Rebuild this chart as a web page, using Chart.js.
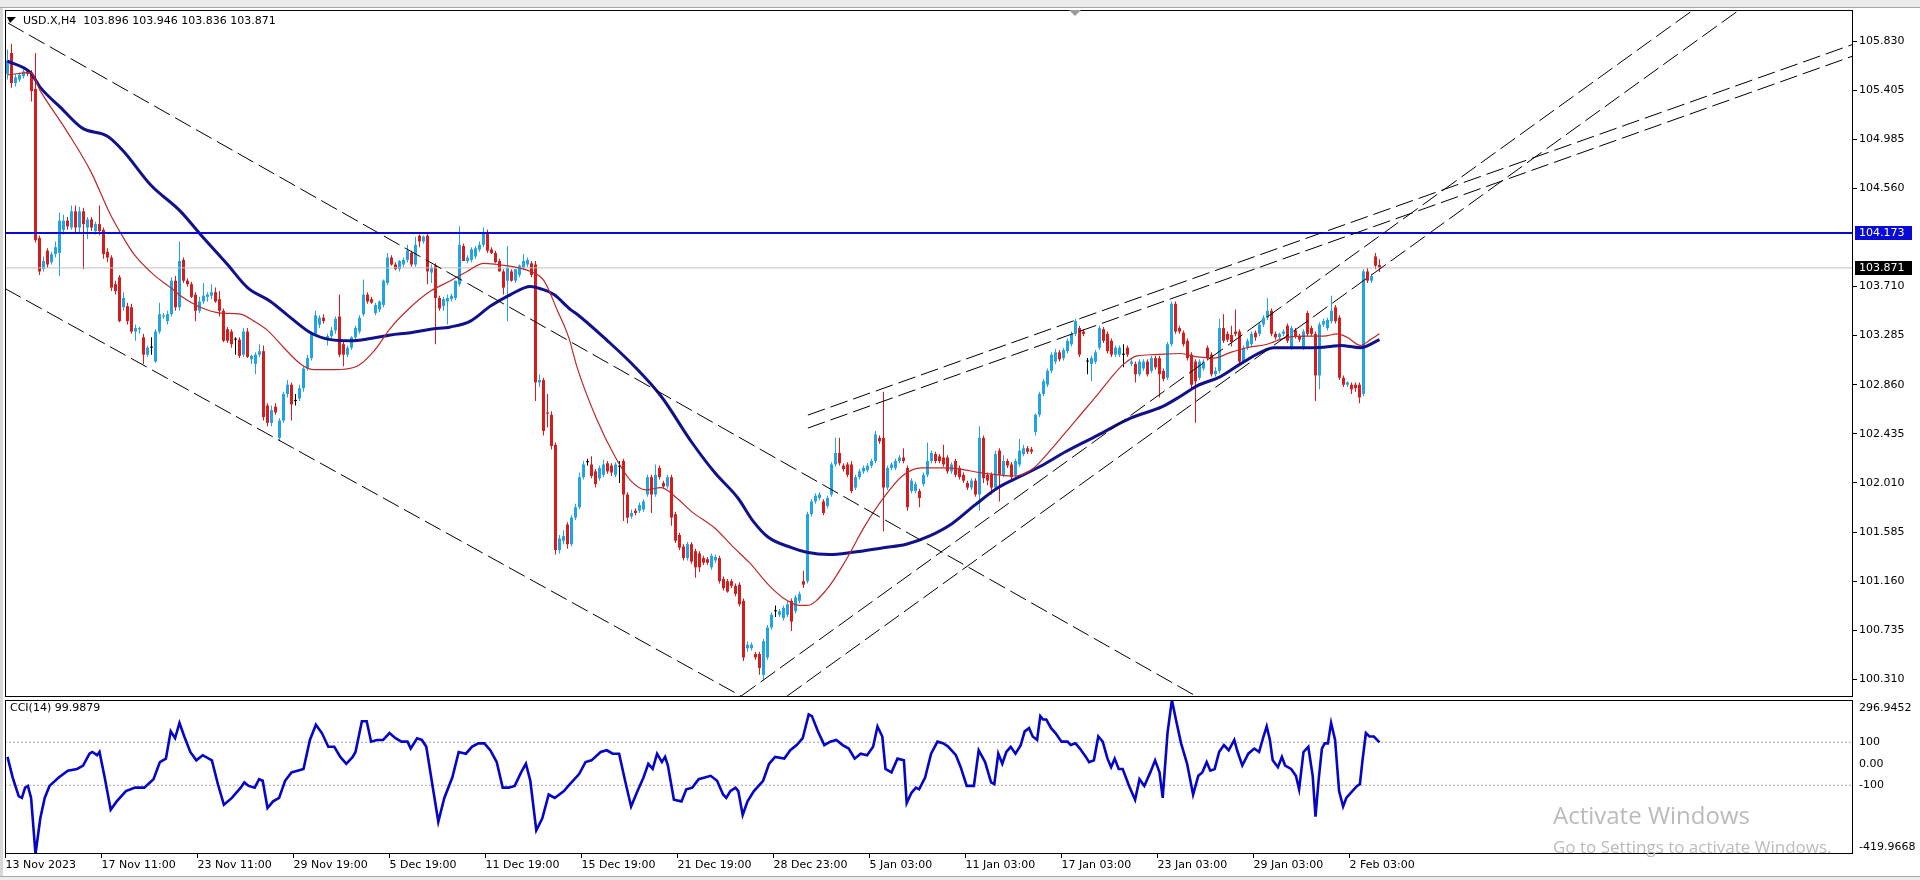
<!DOCTYPE html>
<html>
<head>
<meta charset="utf-8">
<script src="https://cdn.jsdelivr.net/npm/chart.js@4.4.1/dist/chart.umd.min.js"></script>
<style>
html,body{margin:0;padding:0;width:1920px;height:880px;overflow:hidden;background:#fff;}
#topbar{position:absolute;left:0;top:0;width:1920px;height:7px;background:#ececec;border-bottom:1px solid #a8a8a8;}
#botbar{position:absolute;left:0;top:876px;width:1920px;height:4px;background:#ececec;border-top:1px solid #a8a8a8;}
#leftbar{position:absolute;left:0;top:8px;width:3px;height:868px;background:#d8d8d8;}
canvas{position:absolute;left:0;}
#cMain{top:0;}
#cCci{top:698px;}
.hdr{position:absolute;font:11px "DejaVu Sans",sans-serif;color:#000;white-space:pre;line-height:13px;}
.wm{position:absolute;font-family:"Open Sans",sans-serif;color:#bbbbbb;white-space:pre;line-height:1;}
</style>
</head>
<body>
<div id="topbar"></div>
<div id="botbar"></div>
<div id="leftbar"></div>
<canvas id="cMain" width="1920" height="698" style="width:1920px;height:698px"></canvas>
<canvas id="cCci" width="1920" height="182" style="width:1920px;height:182px"></canvas>
<div class="hdr" style="left:23px;top:14px">USD.X,H4  103.896 103.946 103.836 103.871</div>
<div class="hdr" style="left:10px;top:701px">CCI(14) 99.9879</div>
<div class="wm" style="left:1553px;top:803px;font-size:24px">Activate Windows</div>
<div class="wm" style="left:1553px;top:838px;font-size:17px">Go to Settings to activate Windows.</div>
<script>
// ---------- DATA ----------
const timeLabels = ["13 Nov 2023","17 Nov 11:00","23 Nov 11:00","29 Nov 19:00","5 Dec 19:00","11 Dec 19:00","15 Dec 19:00","21 Dec 19:00","28 Dec 23:00","5 Jan 03:00","11 Jan 03:00","17 Jan 03:00","23 Jan 03:00","29 Jan 03:00","2 Feb 03:00"];
const timeTickBars = [0,24,48,72,96,120,144,168,192,216,240,264,288,312,336];
const priceTickValues = [105.830,105.405,104.985,104.560,103.710,103.285,102.860,102.435,102.010,101.585,101.160,100.735,100.310];
const priceTickLabels = ["105.830","105.405","104.985","104.560","103.710","103.285","102.860","102.435","102.010","101.585","101.160","100.735","100.310"];
const cciTickValues = [296.9452,100,0,-100,-419.9668];
const cciTickLabels = ["296.9452","100","0.00","-100","-419.9668"];
const cciLevels = [100,-100];
const supportLevel = 104.173;
const bidPrice = 103.871;

const O = [105.55,105.73,105.47,105.50,105.53,105.57,105.56,105.42,104.13,103.86,
104.02,103.92,103.99,104.00,104.20,104.28,104.22,104.36,104.22,104.36,
104.22,104.29,104.19,104.25,104.20,104.01,103.96,103.73,103.79,103.53,
103.54,103.53,103.32,103.34,103.27,103.12,103.18,103.06,103.32,103.45,
103.41,103.47,103.76,103.53,103.94,103.76,103.73,103.64,103.50,103.58,
103.62,103.63,103.66,103.60,103.50,103.34,103.32,103.25,103.25,103.12,
103.32,103.08,103.04,103.12,103.15,102.68,102.53,102.67,102.40,102.55,
102.78,102.86,102.72,102.74,102.83,103.00,103.09,103.30,103.38,103.44,
103.25,103.28,103.33,103.45,103.21,103.12,103.18,103.27,103.32,103.47,
103.64,103.60,103.48,103.51,103.55,103.74,103.96,103.90,103.86,103.90,
103.94,104.00,103.90,104.15,104.10,104.15,103.83,103.89,103.61,103.54,
103.58,103.60,103.61,103.73,104.06,103.93,103.94,103.97,104.03,104.07,
104.17,104.03,104.00,103.93,103.84,103.76,103.84,103.76,103.81,103.87,
103.90,103.91,103.90,102.88,102.90,102.62,102.60,102.34,101.43,101.51,
101.65,101.48,101.71,101.80,102.06,102.19,102.17,102.11,102.05,102.08,
102.18,102.16,102.08,102.15,102.20,101.91,101.72,101.77,101.77,101.78,
101.91,102.06,101.91,102.14,102.01,101.98,102.06,101.74,101.56,101.46,
101.36,101.48,101.42,101.40,101.36,101.35,101.28,101.34,101.36,101.18,
101.16,101.16,101.12,101.13,100.99,100.58,100.58,100.53,100.53,100.35,
100.50,100.76,100.90,100.87,100.84,100.87,100.99,100.90,100.99,101.16,
101.16,101.74,101.85,101.88,101.85,101.81,101.91,102.17,102.27,102.16,
102.17,102.17,101.97,102.06,102.11,102.12,102.16,102.20,102.40,102.40,
101.97,102.14,102.14,102.20,102.23,102.14,101.94,101.94,101.94,102.00,
102.08,102.20,102.26,102.24,102.23,102.23,102.11,102.20,102.14,102.08,
102.01,101.97,102.03,101.91,102.40,102.08,102.08,101.97,102.29,102.08,
102.20,102.17,102.08,102.17,102.26,102.31,102.30,102.45,102.60,102.78,
102.86,102.98,103.06,103.14,103.09,103.15,103.21,103.30,103.35,103.32,
103.06,103.04,103.06,103.18,103.34,103.30,103.24,103.12,103.12,103.12,
103.18,103.04,103.04,102.95,103.00,103.06,102.98,103.09,103.09,102.98,
102.92,103.21,103.56,103.35,103.31,103.24,103.12,103.06,102.92,103.00,
103.18,103.12,102.95,102.98,103.35,103.30,103.29,103.32,103.32,103.06,
103.18,103.21,103.31,103.30,103.38,103.44,103.50,103.30,103.27,103.30,
103.37,103.18,103.33,103.28,103.18,103.48,103.35,103.30,102.94,103.38,
103.35,103.41,103.53,103.44,102.92,102.86,102.86,102.86,102.86,102.78,
103.84,103.76,103.97,103.896];

const H = [105.76,105.81,105.55,105.56,105.59,105.59,105.58,105.73,104.15,103.97,
104.04,104.01,104.10,104.35,104.33,104.31,104.41,104.41,104.40,104.39,
104.31,104.31,104.27,104.41,104.22,104.04,103.98,103.76,103.81,103.66,
103.57,103.56,103.38,103.36,103.30,103.20,103.27,103.34,103.57,103.48,
103.50,103.79,103.80,104.10,103.96,103.78,103.75,103.66,103.62,103.74,
103.66,103.73,103.70,103.67,103.52,103.36,103.34,103.27,103.27,103.35,
103.35,103.12,103.14,103.21,103.20,102.70,102.68,102.70,102.57,102.80,
102.90,102.88,102.78,102.86,103.02,103.12,103.32,103.50,103.46,103.47,
103.30,103.36,103.45,103.64,103.24,103.20,103.28,103.37,103.46,103.77,
103.66,103.62,103.57,103.59,103.77,104.00,103.98,103.92,103.94,103.96,
104.07,104.02,104.14,104.16,104.15,104.17,103.90,103.91,103.63,103.62,
103.64,103.65,103.76,104.23,104.08,103.98,104.05,104.06,104.10,104.22,
104.20,104.05,104.02,103.95,103.86,104.06,103.86,103.86,103.90,103.99,
103.96,103.93,103.93,102.95,102.92,102.78,102.63,102.36,101.56,101.60,
101.67,101.73,101.83,102.10,102.20,102.22,102.24,102.13,102.16,102.21,
102.20,102.18,102.19,102.20,102.22,101.93,101.78,101.79,101.84,101.87,
102.08,102.08,102.17,102.16,102.03,102.08,102.08,101.76,101.58,101.48,
101.50,101.50,101.44,101.42,101.38,101.37,101.40,101.39,101.38,101.20,
101.18,101.18,101.14,101.15,101.01,100.64,100.63,100.55,100.55,100.66,
100.78,100.89,100.95,100.92,100.95,100.99,101.01,101.04,101.07,101.25,
101.76,101.87,101.92,101.93,101.87,101.90,102.19,102.40,102.40,102.18,
102.19,102.20,102.08,102.13,102.16,102.18,102.22,102.46,102.42,102.80,
102.16,102.19,102.22,102.25,102.31,102.16,102.05,102.02,101.96,102.10,
102.36,102.29,102.28,102.26,102.34,102.25,102.19,102.22,102.16,102.10,
102.03,102.05,102.05,102.50,102.42,102.10,102.10,102.29,102.31,102.25,
102.22,102.19,102.22,102.39,102.34,102.33,102.32,102.61,102.80,102.91,
103.00,103.14,103.17,103.16,103.18,103.26,103.32,103.43,103.37,103.34,
103.09,103.11,103.16,103.37,103.36,103.32,103.26,103.20,103.20,103.21,
103.20,103.08,103.06,103.08,103.08,103.08,103.11,103.11,103.11,103.00,
103.23,103.58,103.58,103.37,103.33,103.26,103.14,103.08,103.08,103.08,
103.20,103.14,103.01,103.43,103.47,103.32,103.37,103.51,103.34,103.20,
103.26,103.32,103.33,103.40,103.46,103.61,103.52,103.32,103.31,103.34,
103.39,103.37,103.35,103.30,103.34,103.50,103.37,103.32,103.40,103.43,
103.44,103.63,103.55,103.46,102.94,102.89,102.88,102.88,102.88,103.86,
103.87,103.82,104.00,103.946];

const L = [105.50,105.43,105.44,105.48,105.51,105.53,105.31,104.09,103.81,103.84,
103.87,103.90,103.96,103.80,104.16,104.20,104.20,104.18,104.18,103.86,
104.12,104.19,104.16,104.15,103.95,103.92,103.67,103.64,103.40,103.50,
103.38,103.30,103.24,103.30,103.04,103.10,103.12,103.05,103.30,103.43,
103.38,103.45,103.50,103.50,103.74,103.71,103.61,103.41,103.48,103.56,
103.58,103.60,103.57,103.45,103.23,103.22,103.18,103.12,103.09,103.10,
103.09,103.04,102.95,103.10,102.55,102.50,102.50,102.60,102.37,102.53,
102.75,102.55,102.68,102.72,102.80,102.98,103.07,103.28,103.35,103.39,
103.20,103.26,103.30,103.10,103.02,103.10,103.16,103.25,103.30,103.45,
103.56,103.56,103.46,103.49,103.53,103.72,103.89,103.85,103.84,103.88,
103.92,103.88,103.88,104.05,104.08,103.73,103.74,103.21,103.50,103.50,
103.38,103.58,103.59,103.71,103.93,103.91,103.92,103.95,104.01,104.05,
104.00,103.99,103.91,103.84,103.64,103.41,103.75,103.74,103.79,103.85,
103.88,103.79,102.72,102.84,102.42,102.49,102.30,101.39,101.40,101.48,
101.44,101.46,101.69,101.78,102.04,102.16,102.05,101.97,102.03,102.06,
102.09,102.07,102.06,102.01,101.68,101.66,101.70,101.73,101.75,101.76,
101.89,101.75,101.89,102.04,101.96,101.96,101.64,101.49,101.43,101.34,
101.34,101.31,101.19,101.24,101.30,101.30,101.26,101.32,101.14,101.08,
101.06,101.10,101.03,100.94,100.47,100.55,100.56,100.48,100.35,100.30,
100.48,100.74,100.85,100.85,100.82,100.85,100.73,100.88,100.97,101.10,
101.14,101.72,101.83,101.86,101.73,101.79,101.89,102.15,102.16,102.11,
102.06,101.92,101.95,102.04,102.09,102.10,102.14,102.18,102.35,101.59,
101.95,102.12,102.12,102.18,102.18,101.77,101.92,101.92,101.80,101.98,
102.06,102.18,102.18,102.18,102.15,102.09,102.09,102.06,102.04,102.01,
101.95,101.95,101.89,101.77,102.01,101.99,101.91,101.94,101.85,102.06,
102.14,102.04,102.06,102.15,102.24,102.26,102.26,102.42,102.58,102.76,
102.84,102.96,103.04,103.06,103.07,103.13,103.19,103.28,103.10,103.28,
102.95,102.89,103.04,103.16,103.22,103.13,103.10,103.10,103.10,103.01,
103.10,103.02,102.88,102.93,102.98,102.93,102.96,102.99,102.75,102.89,
102.90,103.19,103.30,103.30,103.19,103.07,102.83,102.53,102.90,102.98,
103.07,102.93,102.93,102.96,103.22,103.23,103.19,103.28,103.04,103.04,
103.16,103.19,103.24,103.28,103.36,103.42,103.28,103.25,103.25,103.28,
103.22,103.16,103.26,103.23,103.16,103.28,103.28,102.72,102.82,103.36,
103.33,103.39,103.39,102.90,102.84,102.84,102.78,102.80,102.70,102.76,
103.74,103.74,103.86,103.836];

const C = [105.67,105.47,105.52,105.54,105.57,105.55,105.40,104.11,103.84,103.93,
103.90,103.99,104.05,104.28,104.28,104.23,104.36,104.22,104.36,104.25,
104.29,104.22,104.25,104.19,103.99,103.96,103.70,103.67,103.41,103.61,
103.41,103.32,103.35,103.35,103.12,103.18,103.18,103.32,103.47,103.46,
103.47,103.76,103.53,103.93,103.76,103.73,103.62,103.50,103.58,103.63,
103.64,103.66,103.58,103.50,103.24,103.24,103.21,103.25,103.11,103.32,
103.10,103.11,103.12,103.15,102.58,102.53,102.64,102.62,102.55,102.78,
102.86,102.69,102.72,102.83,103.00,103.09,103.30,103.46,103.44,103.41,
103.28,103.33,103.43,103.12,103.12,103.18,103.27,103.35,103.44,103.64,
103.58,103.57,103.55,103.58,103.76,103.96,103.90,103.86,103.93,103.94,
104.02,103.90,104.07,104.10,104.14,103.84,103.87,103.61,103.52,103.60,
103.61,103.63,103.76,104.07,103.93,103.96,104.03,104.04,104.07,104.17,
104.02,104.00,103.92,103.84,103.70,103.87,103.76,103.86,103.89,103.93,
103.94,103.81,102.88,102.90,102.46,102.61,102.33,101.43,101.53,101.55,
101.48,101.71,101.80,102.06,102.17,102.19,102.07,102.00,102.14,102.17,
102.11,102.10,102.17,102.15,101.91,101.71,101.75,101.75,101.82,101.85,
102.06,101.91,102.08,102.06,101.98,102.06,101.71,101.51,101.45,101.36,
101.48,101.33,101.28,101.28,101.32,101.32,101.38,101.37,101.16,101.10,
101.07,101.12,101.05,100.96,100.50,100.61,100.61,100.50,100.41,100.64,
100.76,100.87,100.90,100.90,100.93,100.96,100.81,101.02,101.05,101.13,
101.74,101.85,101.90,101.91,101.75,101.88,102.17,102.27,102.18,102.13,
102.08,101.94,102.06,102.11,102.14,102.16,102.20,102.43,102.37,101.97,
102.14,102.17,102.20,102.23,102.20,101.80,102.03,102.00,101.88,102.08,
102.20,102.27,102.20,102.20,102.17,102.11,102.17,102.08,102.06,102.03,
101.97,102.03,101.91,102.40,102.05,102.03,101.97,102.26,102.08,102.20,
102.16,102.06,102.20,102.29,102.31,102.28,102.28,102.60,102.78,102.89,
102.98,103.12,103.14,103.08,103.16,103.24,103.30,103.41,103.12,103.30,
103.06,103.09,103.14,103.35,103.24,103.15,103.12,103.18,103.18,103.12,
103.12,103.06,102.95,103.06,103.06,102.95,103.09,103.01,102.95,102.91,
103.21,103.56,103.32,103.32,103.21,103.09,102.86,102.89,103.06,103.06,
103.09,102.95,102.98,103.35,103.24,103.25,103.23,103.30,103.06,103.18,
103.24,103.30,103.27,103.38,103.44,103.50,103.30,103.27,103.30,103.32,
103.24,103.35,103.28,103.25,103.32,103.30,103.30,102.94,103.38,103.41,
103.42,103.50,103.41,102.92,102.86,102.88,102.82,102.83,102.75,103.84,
103.76,103.80,103.89,103.871];

// moving averages (bar position, price)
const maSlowX = [0,5.75,8.25,13.25,18.7,25,29,35.75,43.25,48.25,55,60,65.75,70.75,75.75,80.75,85.75,90.75,95.75,100.75,105.75,110.75,115.75,120.75,125.75,130.75,133.25,136.6,140.75,142.4,150,156.7,163.4,171.1,176.8,182.6,186.4,190.2,196,199.8,205.5,211.3,219,224.7,230.4,236.2,241.9,247.7,253.4,259.1,264.5,272.4,280.75,288.7,293.25,297.4,303.25,308.25,313.25,316.6,322.4,326.6,330.75,333.25,338.25,343];
const maSlowY = [105.66,105.56,105.43,105.26,105.08,105.01,104.88,104.59,104.36,104.16,103.90,103.70,103.58,103.44,103.31,103.25,103.24,103.26,103.29,103.31,103.34,103.36,103.41,103.54,103.64,103.71,103.69,103.64,103.51,103.47,103.24,103.02,102.76,102.36,102.10,101.88,101.68,101.54,101.45,101.41,101.39,101.41,101.45,101.48,101.55,101.66,101.82,101.97,102.07,102.17,102.28,102.42,102.57,102.67,102.76,102.85,102.93,103.04,103.14,103.18,103.18,103.18,103.19,103.20,103.18,103.25];
const maFastX = [0,5.75,8.25,14.9,20.75,25.75,29,31.6,36.6,40.75,43.25,48.25,53.25,58.25,61.6,65,69.1,73.25,76.6,81.6,87.4,91.6,95.75,100.75,105.75,110.75,114.9,119.1,122.4,126.6,130.75,134.1,137.5,140.3,142.4,147.2,152,155.8,159.6,163.4,167.3,171.1,176.8,181.6,185.5,190.2,194.1,197.9,199.8,204.6,209.4,214.2,219,223.7,228.5,233.3,238.1,243,247.7,251.6,256.6,259.9,264.1,268.25,272.4,276.6,279.1,282.4,286.6,293.25,297.4,301.6,305.75,309.9,314.9,319.9,324.9,329,332.4,334.9,338.25,340.75,343];
const maFastY = [105.54,105.56,105.40,105.05,104.71,104.33,104.13,103.99,103.81,103.70,103.63,103.53,103.48,103.47,103.41,103.33,103.18,103.04,102.99,102.99,103.02,103.15,103.35,103.53,103.67,103.76,103.84,103.91,103.90,103.88,103.84,103.76,103.50,103.27,103.01,102.57,102.23,102.03,101.95,101.97,101.88,101.76,101.62,101.45,101.32,101.13,101.01,100.95,100.95,101.08,101.33,101.63,101.88,102.07,102.14,102.14,102.13,102.10,102.08,102.07,102.14,102.26,102.43,102.60,102.77,102.95,103.04,103.11,103.12,103.13,103.10,103.09,103.14,103.18,103.21,103.27,103.28,103.28,103.30,103.27,103.20,103.25,103.30];

// CCI(14) (bar position, value)
const cciX = [0,1.3,2.8,3.6,4.4,5.1,5.9,7.0,8.2,9.3,10.5,12.8,15.1,17.4,18.9,20.5,21.2,22.4,23.0,24.3,25.8,27.3,29.6,31.9,34.2,36.5,38.1,39.6,40.8,41.9,43.0,44.2,45.7,47.2,48.8,51.1,52.6,54.1,56.1,58.3,59.2,60.3,61.8,62.9,63.8,65.0,66.4,67.9,69.4,71.0,72.5,74.0,75.6,77.1,78.6,80.2,81.7,83.2,84.7,86.3,87.0,88.6,89.8,90.9,92.4,93.9,95.5,97.0,98.5,100.0,100.8,102.4,103.6,104.7,106.2,107.7,109.2,111.2,112.8,114.6,116.1,117.7,119.2,120.7,122.3,123.8,125.3,126.8,128.4,129.6,130.7,132.2,133.7,135.3,136.8,139.1,140.6,142.9,144.5,146.0,148.3,149.8,151.3,152.9,154.4,155.9,157.5,159.0,160.2,161.3,162.4,163.6,164.4,165.1,166.6,168.5,169.7,171.2,172.8,174.3,175.8,177.4,178.9,179.7,180.7,182.0,182.7,183.8,185.0,186.6,188.9,190.4,191.9,194.2,195.7,197.3,198.8,200.3,201.1,202.6,204.2,205.7,207.2,208.8,210.3,211.8,213.3,214.9,216.4,217.5,218.7,219.5,221.0,222.5,224.1,224.8,226.0,227.1,227.9,229.4,230.9,232.5,234.0,235.2,237.1,238.3,239.8,241.6,242.8,244.4,245.9,246.7,247.7,248.7,249.7,250.8,252.0,253.3,254.3,255.4,256.3,257.4,258.2,258.9,259.7,260.9,262.0,263.5,265.0,265.8,267.0,268.1,269.6,270.4,271.6,272.7,273.8,275.0,275.9,276.8,277.8,278.8,280.4,281.9,283.0,284.2,285.7,286.9,288.0,288.8,290.0,291.1,292.1,293.4,294.9,296.4,297.7,298.7,299.8,300.7,301.8,302.9,304.1,305.3,306.7,307.4,308.7,310.2,311.7,312.9,314.0,314.8,315.6,316.3,317.6,318.6,319.4,320.9,322.1,322.9,324.0,325.2,326.3,327.0,327.8,328.6,329.3,330.1,330.9,331.9,332.9,333.9,334.7,336.2,337.4,338.1,338.7,339.6,340.5,341.6,342.4,343.0];
const cciY = [32,-64,-151,-159,-111,-103,-159,-420,-254,-159,-103,-64,-32,-24,-8,47,55,40,55,-64,-214,-175,-127,-111,-111,-72,8,24,151,119,190,127,55,16,40,16,-95,-191,-159,-111,-87,-103,-111,-72,-79,-206,-175,-159,-79,-40,-32,-24,111,182,143,79,79,32,0,32,55,198,198,103,111,111,143,119,103,103,71,119,111,79,-95,-270,-159,-64,55,47,79,95,95,63,8,-111,-111,-103,-40,0,-79,-310,-254,-143,-159,-127,-95,-48,8,16,55,63,47,47,-79,-199,-127,-64,0,-24,47,8,32,-8,-167,-175,-119,-111,-72,-64,-56,-79,-143,-159,-127,-111,-127,-238,-175,-127,-79,0,32,24,63,87,119,230,222,151,87,103,111,87,71,24,47,40,79,174,127,-24,-40,24,16,-183,-135,-111,-119,-64,47,103,95,79,40,-16,-103,-103,63,8,-87,-95,47,0,55,79,47,87,151,166,127,111,222,206,206,166,143,103,103,87,95,71,32,8,16,127,103,24,-16,24,-24,-24,-103,-167,-72,-103,-40,16,-40,-159,143,297,206,95,0,-143,-56,-40,8,-32,-24,55,87,63,111,63,-8,47,71,55,127,174,111,16,-16,32,-8,-24,-56,-119,55,79,-56,-246,-72,71,95,95,190,111,-127,-199,-159,-127,-103,-95,8,143,127,127,111,100];

// drawn trend lines: [bar, price] end points
const channelUpper = [[0.125,105.989],[297.1,100.166]];
const channelLower = [[-0.625,103.692],[183.4,100.166]];
const riseInner = [[183.4,100.166],[421.05,106.093]];
const riseOuter = [[194.9,100.166],[432.55,106.093]];
const wedgeUpper = [[200.1,102.597],[461.4,105.805]];
const wedgeLower = [[200.1,102.485],[461.4,105.704]];

// ---------- CHART ----------
Chart.defaults.font.family = '"DejaVu Sans", sans-serif';
Chart.defaults.font.size = 11;
Chart.defaults.color = '#000';

const X_MIN = -0.625, X_MAX = 461.375;
const UP = '#22a4e4', DN = '#d61c1c', DOJI = '#000000';
const barIdx = C.map((_, i) => i);
const candleColor = i => (i === undefined ? DOJI : (C[i] > O[i] ? UP : (C[i] < O[i] ? DN : DOJI)));

function seg(points, color, width, dash, order) {
  return {type:'line', data: points.map(p => ({x:p[0], y:p[1]})), borderColor: color, borderWidth: width,
    borderDash: dash || [], pointRadius: 0, tension: 0, fill: false, order: order, clip: 0};
}
function curve(xs, ys, color, width, order) {
  return {type:'line', data: xs.map((x, i) => ({x:x, y:ys[i]})), borderColor: color, borderWidth: width,
    pointRadius: 0, tension: 0.35, cubicInterpolationMode: 'monotone', fill: false, order: order, clip: 0};
}
const DASH = [18, 6];
const noPad = s => { s.paddingTop = 0; s.paddingBottom = 0; s.paddingLeft = 0; s.paddingRight = 0; };

const mainDecor = {
  id: 'mainDecor',
  afterDraw(chart) {
    const {ctx, chartArea: a, scales: {y}} = chart;
    ctx.save();
    ctx.strokeStyle = '#000'; ctx.lineWidth = 1;
    ctx.strokeRect(a.left + 0.5, a.top + 0.5, a.right - a.left - 1, a.bottom - a.top - 1);
    const box = (v, bg) => {
      const py = Math.round(y.getPixelForValue(v));
      ctx.fillStyle = bg; ctx.fillRect(a.right + 2, py - 7, 57, 14);
      ctx.fillStyle = '#fff'; ctx.font = '11px "DejaVu Sans"';
      ctx.textBaseline = 'middle'; ctx.textAlign = 'left';
      ctx.fillText(v.toFixed(3), a.right + 6, py + 0.5);
    };
    box(supportLevel, '#0a0ad8');
    box(bidPrice, '#000');
    ctx.fillStyle = '#9a9a9a';
    ctx.beginPath(); ctx.moveTo(1069, 10); ctx.lineTo(1081, 10); ctx.lineTo(1075, 16); ctx.closePath(); ctx.fill();
    ctx.fillStyle = '#000';
    ctx.beginPath(); ctx.moveTo(7, 17); ctx.lineTo(16, 17); ctx.lineTo(10, 23); ctx.closePath(); ctx.fill();
    ctx.restore();
  }
};

new Chart(document.getElementById('cMain'), {
  type: 'bar',
  data: {
    datasets: [
      {type:'bar', data: barIdx.map(i => ({x:i, y:[L[i], H[i]]})), backgroundColor: c => candleColor(c.dataIndex),
        barThickness: 1, grouped: false, inflateAmount: 0, borderWidth: 0, order: 20},
      {type:'bar', data: barIdx.map(i => ({x:i, y:[O[i], C[i]]})), backgroundColor: c => candleColor(c.dataIndex),
        barThickness: 3, minBarLength: 1, grouped: false, inflateAmount: 0, borderWidth: 0, order: 19},
      seg([[X_MIN, bidPrice], [X_MAX, bidPrice]], '#c0c0c0', 1, [], 18),
      curve(maSlowX, maSlowY, '#11118c', 3, 6),
      curve(maFastX, maFastY, '#bb2a2a', 1.2, 5),
      seg([[X_MIN, supportLevel], [X_MAX, supportLevel]], '#0a0ad8', 2, [], 4),
      seg(channelUpper, '#000', 1, DASH, 3),
      seg(channelLower, '#000', 1, DASH, 3),
      seg(riseInner, '#000', 1, DASH, 3),
      seg(riseOuter, '#000', 1, DASH, 3),
      seg(wedgeUpper, '#000', 1, DASH, 3),
      seg(wedgeLower, '#000', 1, DASH, 3)
    ]
  },
  options: {
    responsive: false, animation: false, events: [],
    layout: {padding: {left: 5, top: 10, right: 0, bottom: 1}},
    plugins: {legend: {display: false}, tooltip: {enabled: false}},
    scales: {
      x: {type: 'linear', min: X_MIN, max: X_MAX, display: false, offset: false},
      y: {type: 'linear', position: 'right', min: 100.158, max: 106.102, offset: false,
        afterFit: s => { s.width = 67; noPad(s); },
        afterBuildTicks: s => { s.ticks = priceTickValues.map(v => ({value: v})); },
        ticks: {autoSkip: false, padding: 2, color: '#000', font: {size: 11}, callback: (v, i) => priceTickLabels[i]},
        grid: {drawOnChartArea: false, drawTicks: true, tickLength: 4, color: '#000'},
        border: {display: false}}
    }
  },
  plugins: [mainDecor]
});

const cciDecor = {
  id: 'cciDecor',
  afterDraw(chart) {
    const {ctx, chartArea: a, scales: {y}} = chart;
    ctx.save();
    ctx.strokeStyle = '#000'; ctx.lineWidth = 1;
    ctx.strokeRect(a.left + 0.5, a.top + 0.5, a.right - a.left - 1, a.bottom - a.top - 1);
    ctx.fillStyle = '#000'; ctx.font = '11px "DejaVu Sans"';
    ctx.textBaseline = 'middle'; ctx.textAlign = 'left';
    cciTickValues.forEach((v, i) => {
      let py = y.getPixelForValue(v);
      py = Math.min(Math.max(py, a.top + 8), a.bottom - 7);
      ctx.fillText(cciTickLabels[i], a.right + 6, py);
    });
    ctx.restore();
  }
};

new Chart(document.getElementById('cCci'), {
  type: 'line',
  data: {
    datasets: [
      ...cciLevels.map(v => seg([[X_MIN, v], [X_MAX, v]], '#ababab', 1, [2, 2], 5)),
      {type:'line', data: cciX.map((x, i) => ({x:x, y:cciY[i]})), borderColor: '#0505c8', borderWidth: 2.6,
        pointRadius: 0, tension: 0, fill: false, order: 1, clip: 0}
    ]
  },
  options: {
    responsive: false, animation: false, events: [],
    layout: {padding: {left: 5, top: 2, right: 0, bottom: 0}},
    plugins: {legend: {display: false}, tooltip: {enabled: false}},
    scales: {
      x: {type: 'linear', min: X_MIN, max: X_MAX, offset: false,
        afterFit: s => { s.height = 26; noPad(s); },
        afterBuildTicks: s => { s.ticks = timeTickBars.map(b => ({value: b - 0.5})); },
        ticks: {autoSkip: false, maxRotation: 0, minRotation: 0, align: 'start', padding: 1, color: '#000',
          font: {size: 11}, callback: (v, i) => timeLabels[i]},
        grid: {drawOnChartArea: false, drawTicks: true, tickLength: 4, color: '#000'},
        border: {display: false}},
      y: {type: 'linear', position: 'right', min: -419.9668, max: 296.9452,
        afterFit: s => { s.width = 67; noPad(s); },
        ticks: {display: false}, grid: {display: false}, border: {display: false}}
    }
  },
  plugins: [cciDecor]
});
</script>
</body>
</html>
